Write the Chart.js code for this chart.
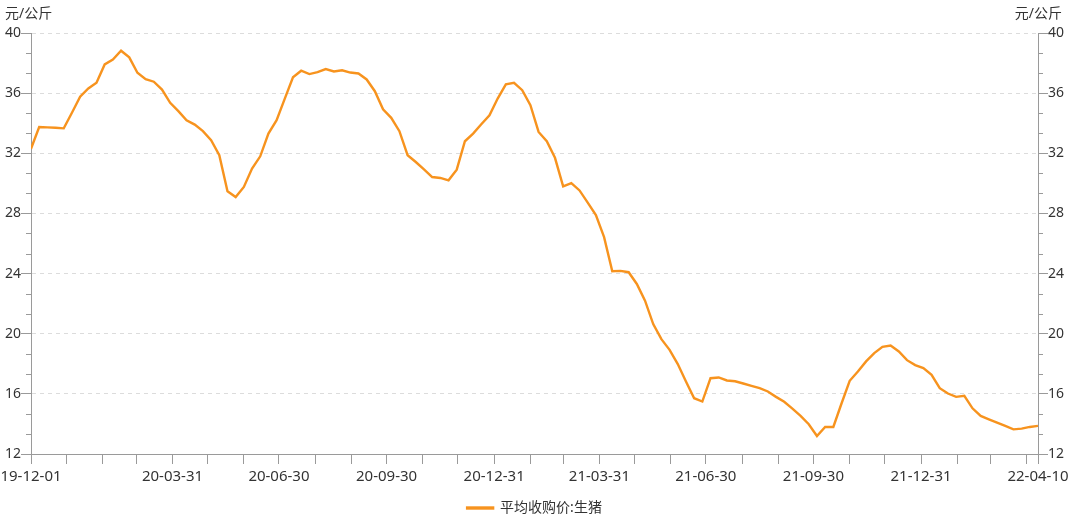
<!DOCTYPE html>
<html>
<head>
<meta charset="utf-8">
<script src="https://cdn.jsdelivr.net/npm/chart.js@4.4.1/dist/chart.umd.min.js"></script>
<style>
html,body{margin:0;padding:0;background:#ffffff;}
#wrap{width:1080px;height:518px;position:relative;}
</style>
</head>
<body>
<div id="wrap"><canvas id="c" width="1080" height="518"></canvas></div>
<script>
// ---------------- data ----------------
const seriesName = '平均收购价:生猪';
const unitLabel = '元/公斤';
const startDate = '2019-12-01';   // first weekly observation
const endDate = '2022-04-10';     // last weekly observation
const weekStepDays = 7;

// weekly average purchase price of live hogs (yuan/kg)
const prices = [
  32.3, 33.75, 33.72, 33.7, 33.66, 34.7, 35.76, 36.31, 36.69, 37.91,
  38.24, 38.82, 38.38, 37.36, 36.93, 36.76, 36.24, 35.36, 34.8, 34.2,
  33.91, 33.47, 32.87, 31.87, 29.47, 29.09, 29.76, 30.98, 31.8, 33.31,
  34.2, 35.64, 37.06, 37.49, 37.27, 37.4, 37.6, 37.44, 37.52, 37.37,
  37.31, 36.91, 36.13, 34.93, 34.36, 33.47, 31.87, 31.42, 30.93, 30.42,
  30.36, 30.2, 30.91, 32.8, 33.31, 33.93, 34.53, 35.64, 36.58, 36.69,
  36.2, 35.2, 33.42, 32.8, 31.7, 29.8, 30.02, 29.53, 28.72, 27.89,
  26.42, 24.16, 24.18, 24.09, 23.31, 22.2, 20.64, 19.64, 18.93, 17.98,
  16.82, 15.71, 15.49, 17.04, 17.09, 16.89, 16.84, 16.69, 16.53, 16.38,
  16.16, 15.8, 15.47, 15.02, 14.53, 13.98, 13.2, 13.8, 13.8, 15.36,
  16.87, 17.49, 18.16, 18.71, 19.13, 19.22, 18.82, 18.24, 17.91, 17.71,
  17.27, 16.38, 16.02, 15.8, 15.87, 15.04, 14.53, 14.31, 14.09, 13.87,
  13.64, 13.69, 13.8, 13.87
];

// x-axis tick marks (month ends) and the ones that carry a label
const xTickDates = [
  '2019-12-01','2019-12-31','2020-01-31','2020-02-29','2020-03-31','2020-04-30','2020-05-31',
  '2020-06-30','2020-07-31','2020-08-31','2020-09-30','2020-10-31','2020-11-30','2020-12-31',
  '2021-01-31','2021-02-28','2021-03-31','2021-04-30','2021-05-31','2021-06-30','2021-07-31',
  '2021-08-31','2021-09-30','2021-10-31','2021-11-30','2021-12-31','2022-01-31','2022-02-28',
  '2022-03-31','2022-04-10'
];
const xLabelDates = [
  '2019-12-01','2020-03-31','2020-06-30','2020-09-30','2020-12-31',
  '2021-03-31','2021-06-30','2021-09-30','2021-12-31','2022-04-10'
];

const yMin = 12, yMax = 40, yMajorStep = 4, yMinorPerMajor = 3;

// ---------------- helpers ----------------
function dayOf(s){
  const [y,m,d] = s.split('-').map(Number);
  const [y0,m0,d0] = startDate.split('-').map(Number);
  return Math.round((Date.UTC(y,m-1,d) - Date.UTC(y0,m0-1,d0)) / 86400000);
}
const points = prices.map((v,i)=>({x: i*weekStepDays, y: v}));
const xTickValues = xTickDates.map(dayOf);
const xLabelMap = {};
xLabelDates.forEach(d => { xLabelMap[dayOf(d)] = d.slice(2); });

const FONT = '"Noto Sans", "Noto Sans CJK SC", sans-serif';
const TEXT = '#333333';
const AXIS = '#9a9a9a';
const GRID = '#dcdcdc';
const LINE = '#F7931E';

// minor ticks on both y axes + unit labels
const extrasPlugin = {
  id: 'extras',
  afterDraw(chart){
    const ctx = chart.ctx;
    ctx.save();
    ctx.strokeStyle = AXIS;
    ctx.lineWidth = 1;
    ['y','y2'].forEach(id=>{
      const s = chart.scales[id];
      const minor = yMajorStep / yMinorPerMajor;
      for (let k = 0; k * minor <= (yMax - yMin) + 1e-9; k++){
        if (k % yMinorPerMajor === 0) continue;
        const py = Math.round(s.getPixelForValue(yMin + k*minor)) + 0.5;
        ctx.beginPath();
        if (id === 'y'){ ctx.moveTo(s.right - 5, py); ctx.lineTo(s.right, py); }
        else { ctx.moveTo(s.left, py); ctx.lineTo(s.left + 5, py); }
        ctx.stroke();
      }
    });
    const ca = chart.chartArea;
    ctx.fillStyle = TEXT;
    ctx.font = '14px ' + FONT;
    ctx.textBaseline = 'middle';
    ctx.textAlign = 'left';
    ctx.fillText(unitLabel, ca.left - 26, ca.top - 19);
    ctx.textAlign = 'right';
    ctx.fillText(unitLabel, ca.right + 24, ca.top - 19);
    ctx.restore();
  }
};

const yCommon = {
  type: 'linear',
  min: yMin, max: yMax,
  ticks: { stepSize: yMajorStep, padding: 0, color: TEXT, font: {family: FONT, size: 14} },
  border: { color: AXIS, dash: [4,4] },
};

new Chart(document.getElementById('c'), {
  type: 'line',
  data: {
    datasets: [{
      label: seriesName,
      data: points,
      borderColor: LINE,
      backgroundColor: LINE,
      borderWidth: 2.4,
      pointRadius: 0,
      tension: 0,
      yAxisID: 'y'
    }]
  },
  options: {
    responsive: false,
    animation: false,
    layout: { padding: { top: 33, left: 0, right: 0, bottom: -7 } },
    scales: {
      x: {
        type: 'linear',
        min: 0, max: dayOf(endDate),
        grid: { drawOnChartArea: false, tickLength: 10, tickColor: AXIS, color: AXIS },
        border: { color: AXIS },
        ticks: {
          autoSkip: false, maxRotation: 0, minRotation: 0, padding: 4,
          color: TEXT, font: {family: FONT, size: 15},
          callback: (v) => xLabelMap[v] || ''
        },
        afterBuildTicks: (s) => { s.ticks = xTickValues.map(v=>({value: v})); },
        afterFit: (s) => { s.height = 38; s.paddingLeft = 0; s.paddingRight = 0; }
      },
      y: Object.assign({}, yCommon, {
        position: 'left',
        grid: { color: GRID, tickColor: AXIS, tickLength: 10, drawOnChartArea: true, tickBorderDash: [] },
        afterFit: (s) => { s.width = 31; }
      }),
      y2: Object.assign({}, yCommon, {
        position: 'right',
        grid: { drawOnChartArea: false, tickColor: AXIS, tickLength: 10, color: AXIS },
        border: { color: AXIS },
        afterFit: (s) => { s.width = 42; }
      })
    },
    plugins: {
      legend: {
        position: 'bottom',
        fullSize: false,
        labels: {
          boxWidth: 26, boxHeight: 1, padding: 9,
          color: TEXT, font: {family: FONT, size: 14}
        }
      },
      tooltip: { enabled: false }
    }
  },
  plugins: [extrasPlugin]
});
</script>
</body>
</html>
